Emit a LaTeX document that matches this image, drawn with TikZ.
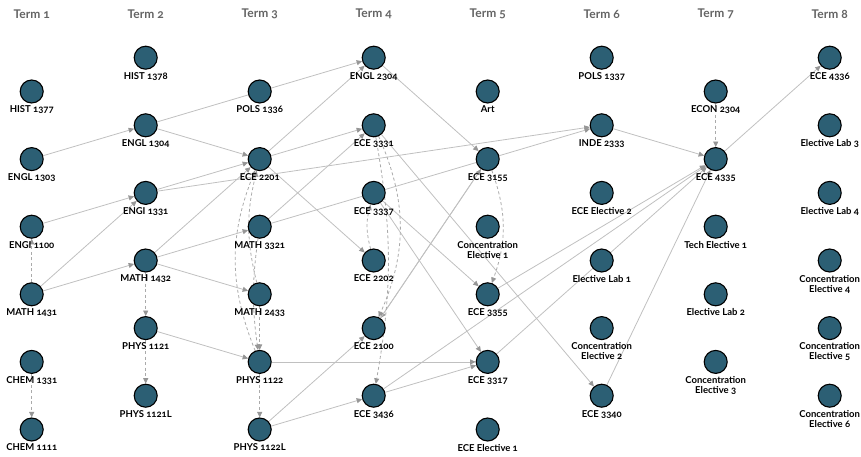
\documentclass[tikz,border=0pt]{standalone}
\usepackage{fontspec}
\setmainfont{Lato}[Numbers=OldStyle]
\usetikzlibrary{arrows.meta,backgrounds}
\definecolor{cfill}{RGB}{44,95,116}
\definecolor{edgegray}{RGB}{192,192,192}
\definecolor{dashgray}{RGB}{170,170,170}
\definecolor{arrowgray}{RGB}{150,150,150}
\definecolor{termgray}{RGB}{100,100,100}
\newcommand\crs[4]{\node[course,label={[lab]below:{#4}}] (#1) at ({31.7+114*#2},{57.7+33.8*#3}) {};}
\begin{document}
\begin{tikzpicture}[x=1pt,y=-1pt,
  course/.style={circle,draw=black,line width=1.1pt,fill=cfill,minimum size=23pt,inner sep=0pt},
  lab/.style={font=\fontsize{9.5}{10}\selectfont\bfseries,align=center,inner sep=1pt,label distance=1.3pt,text=black},
  termlab/.style={font=\fontsize{12}{13}\selectfont\bfseries,text=termgray,inner sep=0pt},
  edge/.style={draw=edgegray,line width=0.8pt,-{Triangle[length=5.5pt,width=5pt,color=arrowgray]}},
  dashedge/.style={draw=dashgray,line width=0.8pt,dash pattern=on 3pt off 2.5pt,-{Triangle[length=5.5pt,width=5pt,color=arrowgray]}}]
\useasboundingbox (0,0) rectangle (861,457);
% term headers
\foreach \i in {1,...,8}{
  \node[termlab] (t\i) at ({31.7+114*(\i-1)},14) {Term \i};
}
% Term 1
\crs{HIST1377}{0}{1}{HIST 1377}
\crs{ENGL1303}{0}{3}{ENGL 1303}
\crs{ENGI1100}{0}{5}{ENGI 1100}
\crs{MATH1431}{0}{7}{MATH 1431}
\crs{CHEM1331}{0}{9}{CHEM 1331}
\crs{CHEM1111}{0}{11}{CHEM 1111}
% Term 2
\crs{HIST1378}{1}{0}{HIST 1378}
\crs{ENGL1304}{1}{2}{ENGL 1304}
\crs{ENGI1331}{1}{4}{ENGI 1331}
\crs{MATH1432}{1}{6}{MATH 1432}
\crs{PHYS1121}{1}{8}{PHYS 1121}
\crs{PHYS1121L}{1}{10}{PHYS 1121L}
% Term 3
\crs{POLS1336}{2}{1}{POLS 1336}
\crs{ECE2201}{2}{3}{ECE 2201}
\crs{MATH3321}{2}{5}{MATH 3321}
\crs{MATH2433}{2}{7}{MATH 2433}
\crs{PHYS1122}{2}{9}{PHYS 1122}
\crs{PHYS1122L}{2}{11}{PHYS 1122L}
% Term 4
\crs{ENGL2304}{3}{0}{ENGL 2304}
\crs{ECE3331}{3}{2}{ECE 3331}
\crs{ECE3337}{3}{4}{ECE 3337}
\crs{ECE2202}{3}{6}{ECE 2202}
\crs{ECE2100}{3}{8}{ECE 2100}
\crs{ECE3436}{3}{10}{ECE 3436}
% Term 5
\crs{Art}{4}{1}{Art}
\crs{ECE3155}{4}{3}{ECE 3155}
\crs{CE1}{4}{5}{Concentration\\Elective 1}
\crs{ECE3355}{4}{7}{ECE 3355}
\crs{ECE3317}{4}{9}{ECE 3317}
\crs{EE1}{4}{11}{ECE Elective 1}
% Term 6
\crs{POLS1337}{5}{0}{POLS 1337}
\crs{INDE2333}{5}{2}{INDE 2333}
\crs{EE2}{5}{4}{ECE Elective 2}
\crs{EL1}{5}{6}{Elective Lab 1}
\crs{CE2}{5}{8}{Concentration\\Elective 2}
\crs{ECE3340}{5}{10}{ECE 3340}
% Term 7
\crs{ECON2304}{6}{1}{ECON 2304}
\crs{ECE4335}{6}{3}{ECE 4335}
\crs{TE1}{6}{5}{Tech Elective 1}
\crs{EL2}{6}{7}{Elective Lab 2}
\crs{CE3}{6}{9}{Concentration\\Elective 3}
% Term 8
\crs{ECE4336}{7}{0}{ECE 4336}
\crs{EL3}{7}{2}{Elective Lab 3}
\crs{EL4}{7}{4}{Elective Lab 4}
\crs{CE4}{7}{6}{Concentration\\Elective 4}
\crs{CE5}{7}{8}{Concentration\\Elective 5}
\crs{CE6}{7}{10}{Concentration\\Elective 6}
\begin{scope}[on background layer]
% solid prerequisites
\draw[edge] (ENGL1303) -- (ENGL1304);
\draw[edge] (ENGL1304) -- (ENGL2304);
\draw[edge] (ENGL1304) -- (ECE2201);
\draw[edge] (ENGI1100) -- (ENGI1331);
\draw[edge] (ENGI1331) -- (ECE2201);
\draw[edge] (ENGI1331) -- (INDE2333);
\draw[edge] (MATH1431) -- (ENGI1331);
\draw[edge] (MATH1431) -- (MATH1432);
\draw[edge] (MATH1432) -- (ECE2201);
\draw[edge] (ECE2201) -- (ENGL2304);
\draw[edge] (MATH1432) -- (MATH3321);
\draw[edge] (MATH1432) -- (MATH2433);
\draw[edge] (PHYS1121) -- (PHYS1122);
\draw[edge] (ECE2201) -- (ECE3331);
\draw[edge] (ECE2201) -- (ECE2202);
\draw[edge] (MATH3321) -- (ECE3331);
\draw[edge] (MATH3321) -- (INDE2333);
\draw[edge] (PHYS1122) -- (ECE3317);
\draw[edge] (PHYS1122L) -- (ECE2100);
\draw[edge] (PHYS1122L) -- (ECE3436);
\draw[edge] (ENGL2304) -- (ECE3155);
\draw[edge] (ECE3331) -- (ECE3340);
\draw[edge] (ECE3337) -- (ECE3355);
\draw[edge] (ECE3337) -- (ECE3317);
\draw[edge] (ECE3155) -- (ECE2100);
\draw[edge] (ECE2100) -- (ECE3155);
\draw[edge] (ECE3436) -- (ECE3317);
\draw[edge] (ECE3436) -- (ECE4335);
\draw[edge] (INDE2333) -- (ECE4335);
\draw[edge] (ECE3355) -- (ECE4335);
\draw[edge] (ECE3317) -- (ECE4335);
\draw[edge] (ECE3340) -- (ECE4335);
\draw[edge] (ECE4335) -- (ECE4336);
% dashed corequisites
\draw[dashedge] (MATH1431) -- (ENGI1100);
\draw[dashedge] (CHEM1331) -- (CHEM1111);
\draw[dashedge] (MATH1432) -- (PHYS1121);
\draw[dashedge] (PHYS1121) -- (PHYS1121L);
\draw[dashedge] (PHYS1122) to[bend left=22] (ECE2201);
\draw[dashedge] (MATH2433) to[bend left=14] (ECE2201);
\draw[dashedge] (MATH3321) to[bend right=8] (PHYS1122);
\draw[dashedge] (MATH2433) -- (PHYS1122);
\draw[dashedge] (PHYS1122) -- (PHYS1122L);
\draw[dashedge] (ECE2202) to[bend left=15] (ECE3337);
\draw[dashedge] (ECE3331) to[bend left=24] (ECE2100);
\draw[dashedge] (ECE3331) to[bend left=10] (ECE3436);
\draw[dashedge] (ECE3155) to[bend left=20] (ECE3355);
\draw[dashedge] (ECON2304) -- (ECE4335);
\end{scope}
\end{tikzpicture}
\end{document}
